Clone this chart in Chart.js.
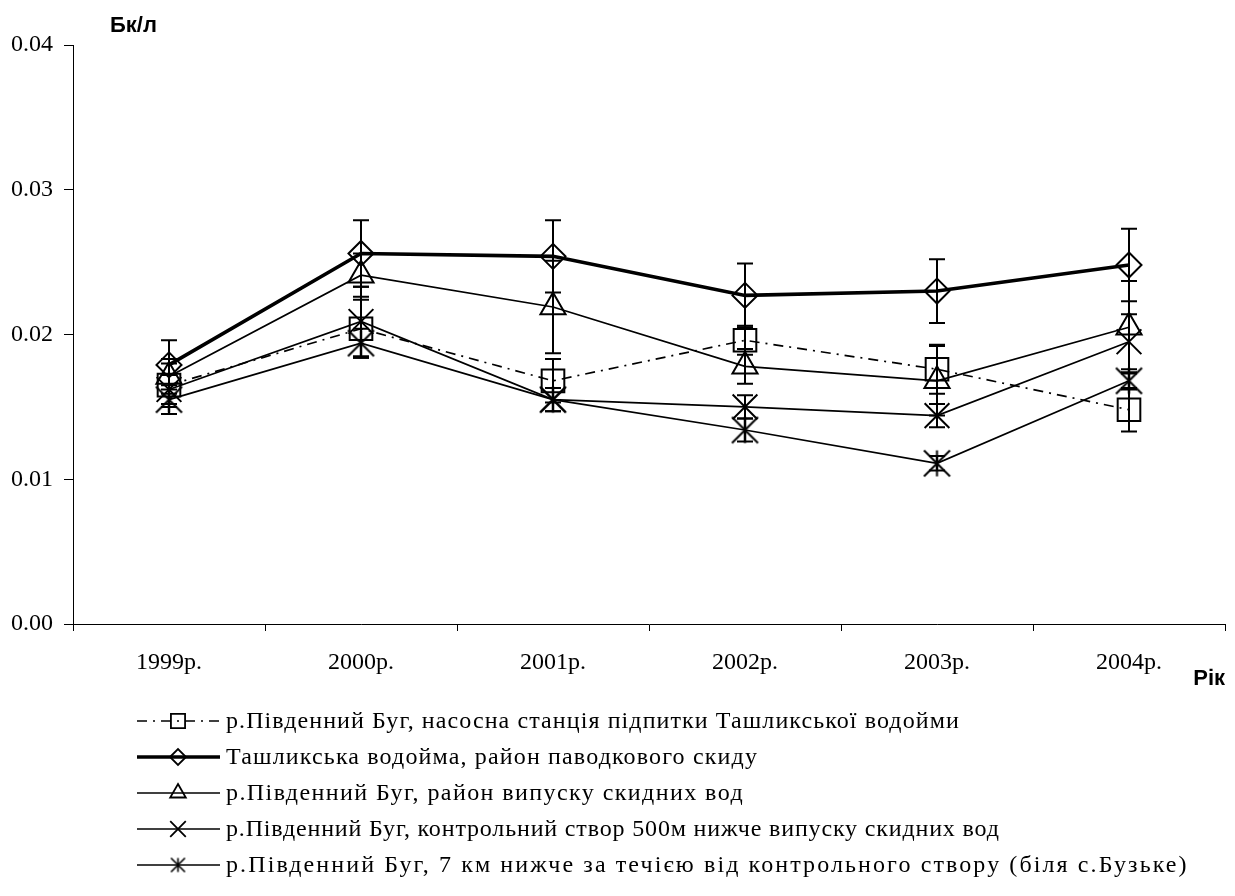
<!DOCTYPE html>
<html>
<head>
<meta charset="utf-8">
<script src="https://cdn.jsdelivr.net/npm/chart.js@4.4.0/dist/chart.umd.min.js"></script>
<style>
  html, body { margin: 0; padding: 0; background: #fff; overflow: hidden; }
  #wrap { width: 1235px; height: 896px; position: relative; }
  canvas { display: block; }
</style>
</head>
<body>
<div id="wrap"><canvas id="chart" width="1235" height="896"></canvas></div>
<script>
// Years of observation
const years = ['1999р.', '2000р.', '2001р.', '2002р.', '2003р.', '2004р.'];

// Activity, Bq/l
const pumpStation   = [0.0165, 0.0204, 0.0168, 0.0196, 0.0176, 0.0148];
const reservoir     = [0.0179, 0.0256, 0.0254, 0.0227, 0.0230, 0.0248];
const dischargeArea = [0.0171, 0.0241, 0.0219, 0.0178, 0.0168, 0.0205];
const control500m   = [0.0162, 0.0209, 0.0155, 0.0150, 0.0144, 0.0195];
const buzke7km      = [0.0155, 0.0194, 0.0155, 0.0134, 0.0111, 0.0168];

// Measurement uncertainty (±), Bq/l
const pumpStationErr   = [0.0015, 0.0020, 0.0015, 0.0010, 0.0017, 0.0015];
const reservoirErr     = [0.0017, 0.0023, 0.0025, 0.0022, 0.0022, 0.0025];
const dischargeAreaErr = [0.0012, 0.0015, 0.0032, 0.0012, 0.0024, 0.0032];
const control500mErr   = [0.0010, 0.0024, 0.0008, 0.0008, 0.0008, 0.0019];
const buzke7kmErr      = [0.0010, 0.0010, 0.0008, 0.0008, 0.0005, 0.0006];

// Series names
const seriesLabels = [
  'р.Південний Буг, насосна станція підпитки Ташликської водойми',
  'Ташликська водойма, район паводкового скиду',
  'р.Південний Буг, район випуску скидних вод',
  'р.Південний Буг, контрольний створ 500м нижче випуску скидних вод',
  'р.Південний Буг, 7 км нижче за течією від контрольного створу (біля с.Бузьке)'
];

// Y axis range
const yMin = 0, yMax = 0.04, yStep = 0.01;

const SERIF = "'Liberation Serif', 'Times New Roman', serif";
const SANS = "'Liberation Sans', Arial, sans-serif";

// Legend layout: right edge each legend caption is spread to
const legendTextRight = [960, 758, 744, 1000, 1189];

// Asterisk marker: an X crossed by a vertical stroke
function makeAsterisk(size, lw) {
  const c = document.createElement('canvas');
  c.width = size; c.height = size;
  const g = c.getContext('2d');
  const m = size / 2, a = size / 2 - 1.5;
  g.strokeStyle = '#000';
  g.lineWidth = lw;
  g.beginPath();
  g.moveTo(m - a, m - a); g.lineTo(m + a, m + a);
  g.moveTo(m + a, m - a); g.lineTo(m - a, m + a);
  g.moveTo(m, m - a); g.lineTo(m, m + a);
  g.stroke();
  return c;
}
const asteriskBig = makeAsterisk(29, 2);
const asteriskSmall = makeAsterisk(17, 1.6);

const errors = [pumpStationErr, reservoirErr, dischargeAreaErr, control500mErr, buzke7kmErr];
const legendStyles = [
  { style: 'rect', radius: 10 },
  { style: 'rectRot', radius: 8 },
  { style: 'triangle', radius: 9 },
  { style: 'crossRot', radius: 11 },
  { style: asteriskSmall, radius: 8 }
];

function series(label, data, opts) {
  return Object.assign({
    label: label,
    data: data,
    borderColor: '#000',
    borderWidth: 1.7,
    pointBorderColor: '#000',
    pointBackgroundColor: 'rgba(0,0,0,0)',
    pointBorderWidth: 2,
    tension: 0,
    fill: false
  }, opts);
}

// Vertical error bars with caps
const errorBars = {
  id: 'errorBars',
  afterDatasetsDraw(chart) {
    const ctx = chart.ctx;
    const ys = chart.scales.y;
    ctx.save();
    ctx.strokeStyle = '#000';
    ctx.lineWidth = 2;
    chart.data.datasets.forEach((ds, i) => {
      const meta = chart.getDatasetMeta(i);
      meta.data.forEach((pt, j) => {
        const v = ds.data[j], e = errors[i][j];
        const yt = ys.getPixelForValue(v + e);
        const yb = ys.getPixelForValue(v - e);
        const x = pt.x;
        ctx.beginPath();
        ctx.moveTo(x, yt); ctx.lineTo(x, yb);
        ctx.moveTo(x - 8, yt); ctx.lineTo(x + 8, yt);
        ctx.moveTo(x - 8, yb); ctx.lineTo(x + 8, yb);
        ctx.stroke();
      });
    });
    ctx.restore();
  }
};

// Axis titles and the legend below the plot
const annotations = {
  id: 'annotations',
  afterDraw(chart) {
    const ctx = chart.ctx;
    const area = chart.chartArea;
    ctx.save();
    ctx.fillStyle = '#000';
    ctx.font = 'bold 22px ' + SANS;
    ctx.textBaseline = 'middle';
    ctx.textAlign = 'left';
    ctx.fillText('Бк/л', 110, 26);
    ctx.textAlign = 'right';
    ctx.fillText('Рік', area.right, 679);

    // legend rows
    const x0 = 137, x1 = 220, xm = 178, textX = 226;
    chart.data.datasets.forEach((ds, i) => {
      const y = 721 + i * 36;
      ctx.save();
      ctx.strokeStyle = '#000';
      ctx.lineWidth = ds.borderWidth;
      ctx.setLineDash(ds.borderDash || []);
      ctx.beginPath();
      ctx.moveTo(x0, y); ctx.lineTo(x1, y);
      ctx.stroke();
      ctx.setLineDash([]);
      ctx.fillStyle = 'rgba(0,0,0,0)';
      ctx.lineWidth = 1.8;
      Chart.helpers.drawPoint(ctx, {
        pointStyle: legendStyles[i].style,
        radius: legendStyles[i].radius,
        borderWidth: 1.8,
        rotation: 0
      }, xm, y);
      ctx.restore();

      ctx.save();
      ctx.fillStyle = '#000';
      ctx.font = '24px ' + SERIF;
      ctx.textAlign = 'left';
      ctx.textBaseline = 'middle';
      const text = ds.label;
      const natural = ctx.measureText(text).width;
      const chars = Array.from(text).length;
      const spacing = Math.max(0, (legendTextRight[i] - textX - natural) / chars);
      ctx.letterSpacing = spacing.toFixed(2) + 'px';
      ctx.fillText(text, textX, y + 1);
      ctx.restore();
    });
    ctx.restore();
  }
};

new Chart(document.getElementById('chart'), {
  type: 'line',
  data: {
    labels: years,
    datasets: [
      series(seriesLabels[0], pumpStation, {
        borderWidth: 1.7, borderDash: [10, 6, 2, 6],
        pointStyle: 'rect', pointRadius: 16
      }),
      series(seriesLabels[1], reservoir, {
        borderWidth: 3.6,
        pointStyle: 'rectRot', pointRadius: 12.5
      }),
      series(seriesLabels[2], dischargeArea, {
        pointStyle: 'triangle', pointRadius: 14.5
      }),
      series(seriesLabels[3], control500m, {
        pointStyle: 'crossRot', pointRadius: 17.5
      }),
      series(seriesLabels[4], buzke7km, {
        pointStyle: asteriskBig, pointRadius: 14
      })
    ]
  },
  options: {
    responsive: false,
    animation: false,
    events: [],
    layout: { autoPadding: false, padding: { top: 45, right: 10, bottom: 212, left: 0 } },
    plugins: {
      legend: { display: false },
      tooltip: { enabled: false },
      title: { display: false }
    },
    scales: {
      x: {
        type: 'category',
        offset: true,
        grid: { offset: true, drawOnChartArea: false, color: '#000', lineWidth: 1, tickLength: 7 },
        border: { color: '#000', width: 1 },
        ticks: { color: '#000', font: { family: SERIF, size: 24 }, padding: 17, maxRotation: 0, autoSkip: false },
        afterFit(scale) {
          scale.height = 60;
          scale.paddingLeft = 0;
          scale.paddingRight = 0;
        }
      },
      y: {
        min: yMin,
        max: yMax,
        grid: { drawOnChartArea: false, color: '#000', lineWidth: 1, tickLength: 9 },
        border: { color: '#000', width: 1 },
        ticks: {
          stepSize: yStep,
          color: '#000',
          font: { family: SERIF, size: 24 },
          padding: 11,
          callback: v => v.toFixed(2)
        },
        afterFit(scale) { scale.width = 73; }
      }
    }
  },
  plugins: [errorBars, annotations]
});
</script>
</body>
</html>
